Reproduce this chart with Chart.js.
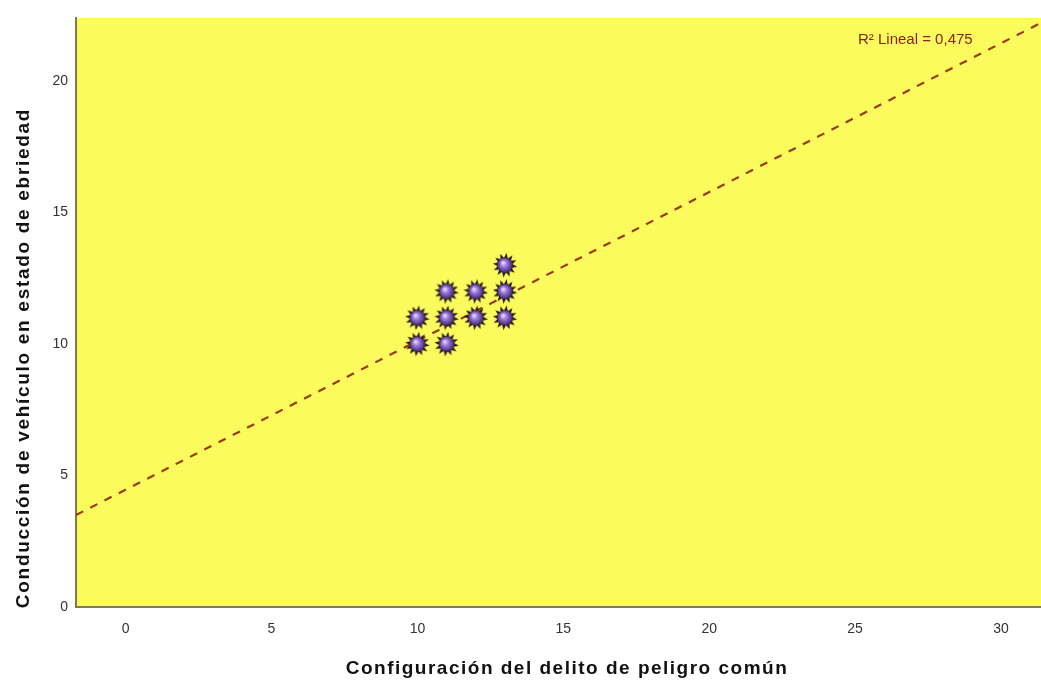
<!DOCTYPE html>
<html>
<head>
<meta charset="utf-8">
<script src="https://cdn.jsdelivr.net/npm/chart.js@4.4.1/dist/chart.umd.min.js"></script>
<style>
  html, body { margin: 0; padding: 0; background: #ffffff; }
  #wrap { width: 1041px; height: 684px; position: relative; }
</style>
</head>
<body>
<div id="wrap"><canvas id="chart" width="1041" height="684"></canvas></div>
<script>
// Observed cases (x = configuración, y = conducción)
const configuracion = [10, 10, 11, 11, 11, 12, 12, 13, 13, 13];
const conduccion    = [10, 11, 10, 11, 12, 11, 12, 11, 12, 13];

// Axis ticks
const xTicks = [0, 5, 10, 15, 20, 25, 30];
const yTicks = [0, 5, 10, 15, 20];

// Linear fit
const fitSlope = 0.566;
const fitIntercept = 4.46;
const fitLabel = 'R² Lineal = 0,475';

// Axis titles
const xTitle = 'Configuración del delito de peligro común';
const yTitle = 'Conducción de vehículo en estado de ebriedad';

// Axis ranges
const X_MIN = -1.70, X_MAX = 31.37;
const Y_MIN = 0, Y_MAX = 22.4;

const FONT = '"Liberation Sans", Arial, sans-serif';

// Spiky purple sphere used as the point marker
function makeMarker() {
  const s = 26, c = document.createElement('canvas');
  c.width = s; c.height = s;
  const g = c.getContext('2d');
  const cx = s / 2, cy = s / 2;
  const n = 12;
  g.fillStyle = '#2a1c12';
  for (let i = 0; i < n; i++) {
    const a = i / n * Math.PI * 2 + 0.13;
    g.beginPath();
    g.moveTo(cx + Math.cos(a - 0.3) * 7, cy + Math.sin(a - 0.3) * 7);
    g.lineTo(cx + Math.cos(a) * 12.3, cy + Math.sin(a) * 12.3);
    g.lineTo(cx + Math.cos(a + 0.3) * 7, cy + Math.sin(a + 0.3) * 7);
    g.closePath();
    g.fill();
  }
  const grad = g.createRadialGradient(cx - 2, cy - 2.5, 0.5, cx, cy, 8);
  grad.addColorStop(0, '#e6dcff');
  grad.addColorStop(0.4, '#9674da');
  grad.addColorStop(0.8, '#5c3c8c');
  grad.addColorStop(1, '#2e1c40');
  g.fillStyle = grad;
  g.beginPath();
  g.arc(cx, cy, 7.8, 0, Math.PI * 2);
  g.fill();
  return c;
}
const marker = makeMarker();

// Yellow plot background
const plotBackground = {
  id: 'plotBackground',
  beforeDraw(chart) {
    const { ctx, chartArea: a } = chart;
    ctx.save();
    ctx.fillStyle = '#fbfb5e';
    ctx.fillRect(a.left, a.top, a.right - a.left, a.bottom - a.top);
    ctx.restore();
  }
};

// Axis titles and fit annotation
const textLayer = {
  id: 'textLayer',
  afterDraw(chart) {
    const ctx = chart.ctx;
    ctx.save();
    ctx.fillStyle = '#111111';
    ctx.font = 'bold 19px ' + FONT;
    ctx.letterSpacing = '1.5px';
    ctx.textAlign = 'center';
    ctx.textBaseline = 'middle';
    ctx.fillText(xTitle, 567, 669);
    ctx.letterSpacing = '1.7px';
    ctx.translate(24, 358);
    ctx.rotate(-Math.PI / 2);
    ctx.fillText(yTitle, 0, 0);
    ctx.restore();

    ctx.save();
    ctx.fillStyle = '#8e1a12';
    ctx.font = '15px ' + FONT;
    ctx.textAlign = 'left';
    ctx.textBaseline = 'middle';
    ctx.fillText(fitLabel, 858, 40);
    ctx.restore();
  }
};

const points = configuracion.map((x, i) => ({ x, y: conduccion[i] }));
const fitLine = [X_MIN, X_MAX].map(x => ({ x, y: fitIntercept + fitSlope * x }));

new Chart(document.getElementById('chart'), {
  type: 'scatter',
  data: {
    datasets: [
      {
        type: 'line',
        data: fitLine,
        showLine: true,
        borderColor: '#9a3a18',
        borderWidth: 2.2,
        borderDash: [8, 8],
        pointRadius: 0,
        fill: false,
        order: 2
      },
      {
        data: points,
        pointStyle: marker,
        pointRadius: 12,
        order: 1
      }
    ]
  },
  options: {
    responsive: false,
    animation: false,
    events: [],
    layout: { autoPadding: false, padding: { top: 18, right: 0, bottom: 0, left: 0 } },
    plugins: { legend: { display: false }, tooltip: { enabled: false } },
    scales: {
      x: {
        type: 'linear',
        min: X_MIN, max: X_MAX,
        afterBuildTicks: s => { s.ticks = xTicks.map(v => ({ value: v })); },
        afterFit: s => { s.height = 77; s.paddingLeft = 0; s.paddingRight = 0; },
        grid: { display: false, drawTicks: false },
        border: { display: true, color: '#7d7d48', width: 2 },
        ticks: { padding: 14, color: '#333333', font: { family: FONT, size: 14 } }
      },
      y: {
        type: 'linear',
        min: Y_MIN, max: Y_MAX,
        afterBuildTicks: s => { s.ticks = yTicks.map(v => ({ value: v })); },
        afterFit: s => { s.width = 76; s.paddingTop = 0; s.paddingBottom = 0; },
        grid: { display: false, drawTicks: false },
        border: { display: true, color: '#7d7d48', width: 2 },
        ticks: { padding: 8, color: '#333333', font: { family: FONT, size: 14 } }
      }
    }
  },
  plugins: [plotBackground, textLayer]
});
</script>
</body>
</html>
